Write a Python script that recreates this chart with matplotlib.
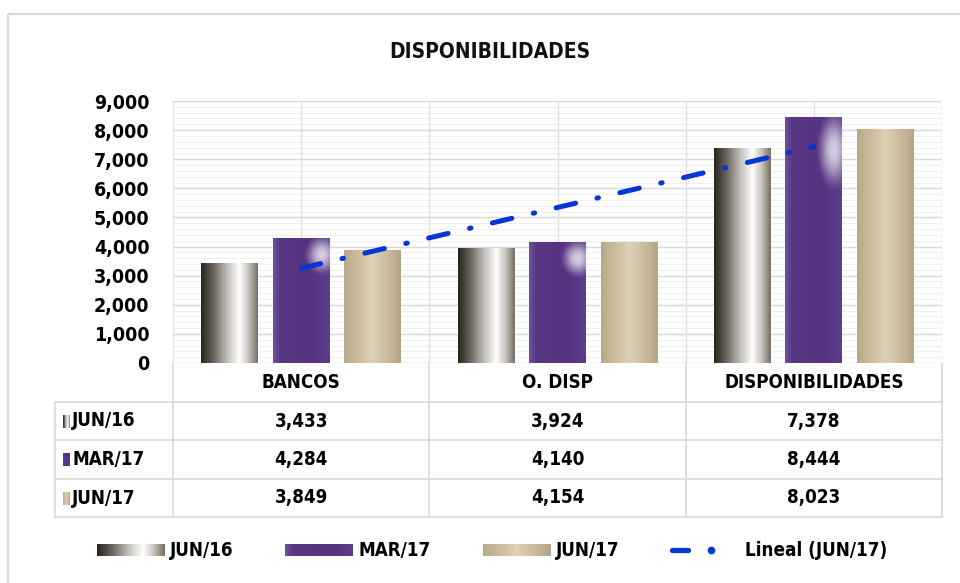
import matplotlib
matplotlib.use("Agg")
import matplotlib.pyplot as plt
from matplotlib.colors import to_rgb
from matplotlib.patches import Rectangle
import numpy as np

plt.rcParams['font.family'] = ['DejaVu Sans']
plt.rcParams['font.stretch'] = 'condensed'
plt.rcParams['font.weight'] = 'bold'

# datos
categorias = ["BANCOS", "O. DISP", "DISPONIBILIDADES"]
series = ["JUN/16", "MAR/17", "JUN/17"]
jun16 = [3433, 3924, 7378]
mar17 = [4284, 4140, 8444]
jun17 = [3849, 4154, 8023]
valores = [jun16, mar17, jun17]
tendencia_label = "Lineal (JUN/17)"
titulo = "DISPONIBILIDADES"
yticks = np.arange(0, 9001, 1000)

# degradados de cada serie (posición, color)
grad_stops = [
    [(0.0, "#2a251f"), (0.22, "#6b665e"), (0.48, "#c9c6c1"), (0.68, "#ffffff"),
     (0.82, "#cfcbc5"), (1.0, "#7a7165")],
    [(0.0, "#6c5197"), (0.12, "#583785"), (0.7, "#553381"), (1.0, "#5e3e8a")],
    [(0.0, "#b7aa8b"), (0.25, "#cbbd9e"), (0.5, "#ddd1b7"), (0.75, "#cbbd9e"),
     (1.0, "#b3a584")],
]
base_colors = ["#8a857e", "#573583", "#cbbd9e"]


def gradiente(stops, n=64):
    pos = [s[0] for s in stops]
    cols = np.array([to_rgb(s[1]) for s in stops])
    t = np.linspace(0, 1, n)
    img = np.stack([np.interp(t, pos, cols[:, k]) for k in range(3)], axis=-1)
    return img[np.newaxis, :, :]


def brillo(n=80):
    # reflejo blanco en la parte alta de las barras moradas
    yy, xx = np.mgrid[0:1:n * 1j, 0:1:n * 1j]
    d = ((xx - 0.86) / 0.34) ** 2 + ((yy - 0.13) / 0.18) ** 2
    a = np.clip(1 - d, 0, 1) ** 2 * 0.75
    img = np.ones((n, n, 4))
    img[..., 3] = a
    return img


fig = plt.figure(figsize=(9.6, 5.83), dpi=100)

# capa de fondo en pixeles para marco, tabla y leyenda
bg = fig.add_axes([0, 0, 1, 1])
bg.axis("off")
bg.add_patch(Rectangle((8, 14), 960, 600, fill=False, ec="#d9d9d9", lw=1.6))

fig.text(490 / 960, 1 - 52 / 583, titulo, ha="center", va="center",
         fontsize=15, fontweight="bold", color="#111111")

# grafico principal
ax = fig.add_axes([173 / 960, 1 - 363 / 583, (942 - 173) / 960, (363 - 101) / 583])
ax.set_facecolor("white")
x = np.arange(len(categorias))
ancho = 0.222
sep = 0.279

for yv in np.arange(0, 9001, 200):
    ax.axhline(yv, color="#f0f0f0", lw=0.8, zorder=0)
for yv in yticks:
    ax.axhline(yv, color="#dadada", lw=1.0, zorder=0.5)
for xv in np.arange(-0.5, len(categorias), 0.5):
    ax.axvline(xv, color="#e0e0e0", lw=1.0, zorder=0.5)

for i, (serie, vals) in enumerate(zip(series, valores)):
    bars = ax.bar(x + (i - 1) * sep, vals, ancho, color=base_colors[i], zorder=2, label=serie)
    for b in bars:
        x0, w, h = b.get_x(), b.get_width(), b.get_height()
        ax.imshow(gradiente(grad_stops[i]), extent=(x0, x0 + w, 0, h), aspect="auto",
                  interpolation="bilinear", zorder=2.1)
        if i == 1:
            ax.imshow(brillo(), extent=(x0, x0 + w, 0, h), aspect="auto",
                      interpolation="bilinear", zorder=2.2, origin="upper")

# linea de tendencia lineal de JUN/17
coef = np.polyfit(x, jun17, 1)
tend = np.polyval(coef, x)
ln, = ax.plot(x, tend, color="#0735d6", lw=3.6, zorder=3, dash_capstyle="round",
              label=tendencia_label)
ln.set_dashes((4.0, 4.4, 0.3, 4.4))

ax.set_xlim(-0.5, len(categorias) - 0.5)
ax.set_ylim(0, 9000)
ax.set_yticks(yticks)
ax.set_yticklabels([f"{v:,}" for v in yticks], fontsize=14, fontweight="bold")
ax.tick_params(axis="y", length=0, pad=17)
ax.set_xticks([])
for s in ax.spines.values():
    s.set_visible(False)

# tabla de datos
tx = lambda v: 173 + (v + 0.5) * (942 - 173) / 3
filas = [363, 402, 440, 479, 517]
lc = "#d9d9d9"
for xv in np.arange(-0.5, len(categorias), 1.0):
    bg.plot([tx(xv), tx(xv)], [filas[0], filas[-1]], color=lc, lw=1.2)
bg.plot([55, 55], [filas[1], filas[-1]], color=lc, lw=1.2)
for yv in filas[1:]:
    bg.plot([55, tx(2.5)], [yv, yv], color=lc, lw=1.2)

for j, cat in enumerate(categorias):
    bg.text(tx(j), (filas[0] + filas[1]) / 2, cat, ha="center", va="center",
            fontsize=13.5, fontweight="bold")

for i, (serie, vals) in enumerate(zip(series, valores)):
    yc = (filas[i + 1] + filas[i + 2]) / 2
    bg.imshow(gradiente(grad_stops[i]), extent=(63, 70, yc + 7, yc - 6), aspect="auto",
              interpolation="bilinear", zorder=3)
    bg.text(72, yc, serie, ha="left", va="center", fontsize=13.5, fontweight="bold")
    for j, v in enumerate(vals):
        bg.text(tx(j), yc, f"{v:,}", ha="center", va="center", fontsize=13.5,
                fontweight="bold")

# leyenda
ly = 550
leg_x = [97, 285, 483]
for i, serie in enumerate(series):
    bg.imshow(gradiente(grad_stops[i]), extent=(leg_x[i], leg_x[i] + 68, ly + 6, ly - 6),
              aspect="auto", interpolation="bilinear", zorder=3)
    bg.text(leg_x[i] + 73, ly, serie, ha="left", va="center", fontsize=13.5,
            fontweight="bold")
bg.plot([672, 688], [ly, ly], color="#0735d6", lw=3.8, solid_capstyle="round")
bg.plot([711], [ly], "o", color="#0735d6", ms=4.5)
bg.text(745, ly, tendencia_label, ha="left", va="center", fontsize=13.5, fontweight="bold")

bg.set_xlim(0, 960)
bg.set_ylim(583, 0)

fig.savefig("out.png", dpi=100)
